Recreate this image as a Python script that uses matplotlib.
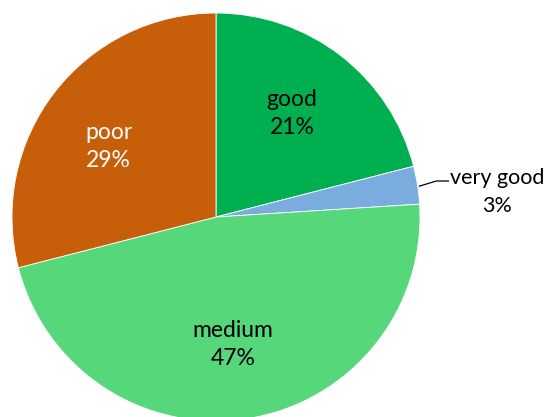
import numpy as np
import matplotlib
matplotlib.use('Agg')
import matplotlib.pyplot as plt

# Share of each rating class, clockwise from 12 o'clock
categories = ['good', 'very good', 'medium', 'poor']
shares = [21, 3, 47, 29]
colors = ['#00B050', '#7AADDE', '#55D77A', '#C75F0A']
text_colors = ['black', 'black', 'black', 'white']
# small angular nudges (degrees) for the in-slice labels
label_nudge = {'good': 1.5, 'medium': -1.5, 'poor': 4.5}

plt.rcParams['font.family'] = ['Lato', 'DejaVu Sans']

fig = plt.figure(figsize=(5.47, 4.17), dpi=100)
# axes placed so the pie sits left of centre, bottom slightly clipped
ax = fig.add_axes([12 / 547, -4 / 417, 408 / 547, 408 / 417])
wedges, _ = ax.pie(shares, colors=colors, startangle=90, counterclock=False,
                   radius=1, wedgeprops=dict(edgecolor='white', linewidth=0.6))
ax.set_xlim(-1, 1)
ax.set_ylim(-1, 1)
ax.set_aspect('equal')
ax.axis('off')

fs = 16.5
for w, name, val, tc in zip(wedges, categories, shares, text_colors):
    mid_deg = (w.theta1 + w.theta2) / 2
    label = '{}\n{}%'.format(name, val)
    if val < 5:
        # small slice: label outside with a leader line
        mid = np.deg2rad(mid_deg)
        x0, y0 = np.cos(mid), np.sin(mid)
        ax.plot([x0 + 0.01, 1.08, 1.14], [y0 - 0.005, y0 + 0.02, y0 + 0.02],
                color='black', lw=0.9, clip_on=False)
        ax.text(1.38, y0 - 0.035, label, ha='center', va='center',
                fontsize=15.5, color=tc, linespacing=1.52)
    else:
        mid = np.deg2rad(mid_deg + label_nudge.get(name, 0))
        r = 0.63
        ax.text(r * np.cos(mid), r * np.sin(mid), label, ha='center',
                va='center', fontsize=fs, color=tc, linespacing=1.45)

fig.savefig('out.png', dpi=100)
